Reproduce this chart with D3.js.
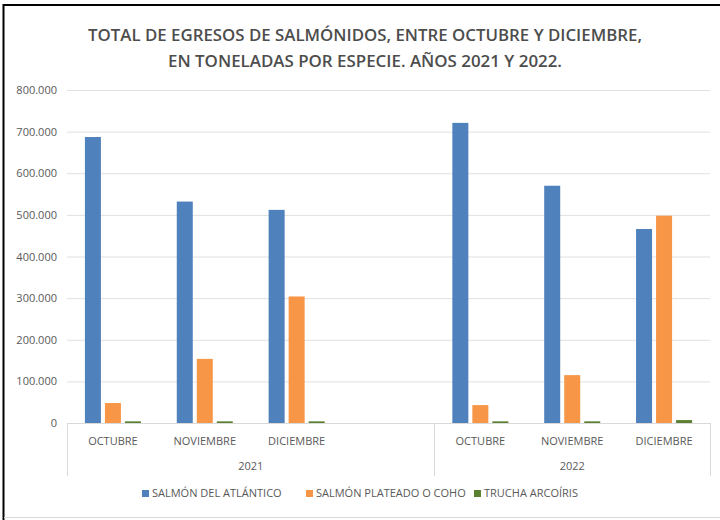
<!DOCTYPE html>
<html>
<head>
<meta charset="utf-8">
<script src="https://cdn.jsdelivr.net/npm/d3@7"></script>
<style>
  body { margin: 0; background: #fff; }
  svg text { font-family: "Open Sans", sans-serif; fill: #595959; }
</style>
</head>
<body>
<svg id="chart" width="720" height="520"></svg>
<script>
// slots of the multi-level axis (2021 has an empty fourth slot)
const monthLabels = ['OCTUBRE', 'NOVIEMBRE', 'DICIEMBRE', '', 'OCTUBRE', 'NOVIEMBRE', 'DICIEMBRE'];
const yearLabels = ['2021', '2022'];
const yearSlots = [[0, 4], [4, 7]];

const seriesNames = ['SALMÓN DEL ATLÁNTICO', 'SALMÓN PLATEADO O COHO', 'TRUCHA ARCOÍRIS'];
const atlantico = [687000, 532000, 512000, null, 721000, 570000, 466000];
const coho = [48000, 154000, 304000, null, 43000, 115000, 498000];
const trucha = [4000, 4000, 4000, null, 4000, 4000, 7000];

const yTicks = [0, 100000, 200000, 300000, 400000, 500000, 600000, 700000, 800000];
const colors = ['#4f81bd', '#f79646', '#5b8032'];

const svg = d3.select('#chart');
const W = 720, H = 520;
const margin = {left: 67, right: 10, top: 90, bottom: 97};

// frame
svg.append('line').attr('x1', 3.5).attr('x2', 3.5).attr('y1', 4).attr('y2', 520)
  .attr('stroke', '#000').attr('stroke-width', 2);
svg.append('line').attr('x1', 3).attr('x2', 720).attr('y1', 5).attr('y2', 5)
  .attr('stroke', '#000').attr('stroke-width', 2);
svg.append('line').attr('x1', 4).attr('x2', 720).attr('y1', 517.5).attr('y2', 517.5)
  .attr('stroke', '#d9d9d9').attr('stroke-width', 1);

// title
const title = svg.append('text')
  .attr('text-anchor', 'middle')
  .style('font-size', '17px')
  .style('font-weight', 600)
  .style('fill', '#4d4d4d');
title.append('tspan').attr('x', 365).attr('y', 41)
  .attr('textLength', 554).attr('lengthAdjust', 'spacingAndGlyphs')
  .text('TOTAL DE EGRESOS DE SALMÓNIDOS, ENTRE OCTUBRE Y DICIEMBRE,');
title.append('tspan').attr('x', 365).attr('y', 67)
  .attr('textLength', 394).attr('lengthAdjust', 'spacingAndGlyphs')
  .text('EN TONELADAS POR ESPECIE. AÑOS 2021 Y 2022.');

const x0 = d3.scaleBand()
  .domain(d3.range(monthLabels.length))
  .range([margin.left, W - margin.right]);

const bw = x0.bandwidth();
const x1 = d3.scaleBand()
  .domain(d3.range(seriesNames.length))
  .range([bw * 0.195, bw * 0.805])
  .paddingInner(0.2);

const y = d3.scaleLinear()
  .domain([0, 800000])
  .range([H - margin.bottom, margin.top]);

const fmt = d => d === 0 ? '0' : d3.format(',')(d).replace(/,/g, '.');

// grid + y labels
const yAxis = svg.append('g')
  .attr('transform', `translate(${margin.left},0)`)
  .call(d3.axisLeft(y).tickValues(yTicks).tickFormat(fmt).tickSize(-(W - margin.left - margin.right)).tickPadding(10));
yAxis.select('.domain').remove();
yAxis.selectAll('.tick line').attr('stroke', '#e0e0e0');
yAxis.selectAll('.tick text').style('font-size', '11px').attr('fill', '#595959');
yAxis.selectAll('.tick').filter(d => d === 0).select('line').remove();

// bars
const values = [atlantico, coho, trucha];
const slot = svg.append('g').selectAll('g')
  .data(d3.range(monthLabels.length))
  .join('g')
  .attr('transform', i => `translate(${x0(i)},0)`);

slot.selectAll('rect')
  .data(i => values.map((s, k) => ({k: k, v: s[i]})).filter(d => d.v != null))
  .join('rect')
  .attr('x', d => x1(d.k))
  .attr('width', x1.bandwidth())
  .attr('y', d => y(d.v))
  .attr('height', d => y(0) - y(d.v))
  .attr('fill', d => colors[d.k]);

// category axis
const base = y(0);
svg.append('line')
  .attr('x1', margin.left).attr('x2', W - margin.right)
  .attr('y1', base + 0.5).attr('y2', base + 0.5)
  .attr('stroke', '#d9d9d9');

const bounds = [0, 4, 7];
svg.selectAll('.divider')
  .data(bounds)
  .join('line')
  .attr('class', 'divider')
  .attr('x1', i => Math.round(i === 7 ? x0.range()[1] : x0(i)) + 0.5)
  .attr('x2', i => Math.round(i === 7 ? x0.range()[1] : x0(i)) + 0.5)
  .attr('y1', base)
  .attr('y2', base + 53)
  .attr('stroke', '#d9d9d9');

svg.append('g').selectAll('text')
  .data(monthLabels)
  .join('text')
  .attr('x', (d, i) => x0(i) + bw / 2)
  .attr('y', base + 22)
  .attr('text-anchor', 'middle')
  .style('font-size', '11px')
  .text(d => d);

svg.append('g').selectAll('text')
  .data(yearLabels)
  .join('text')
  .attr('x', (d, i) => (x0(yearSlots[i][0]) + (yearSlots[i][1] === 7 ? x0.range()[1] : x0(yearSlots[i][1]))) / 2)
  .attr('y', base + 47)
  .attr('text-anchor', 'middle')
  .style('font-size', '11px')
  .text(d => d);

// legend
const legendX = [142, 306, 474];
const legend = svg.append('g').selectAll('g')
  .data(seriesNames)
  .join('g')
  .attr('transform', (d, i) => `translate(${legendX[i]},${base + 74})`);
legend.append('rect')
  .attr('width', 7).attr('height', 7).attr('y', -7)
  .attr('fill', (d, i) => colors[i]);
legend.append('text')
  .attr('x', 10)
  .style('font-size', '11px')
  .text(d => d);
</script>
</body>
</html>
